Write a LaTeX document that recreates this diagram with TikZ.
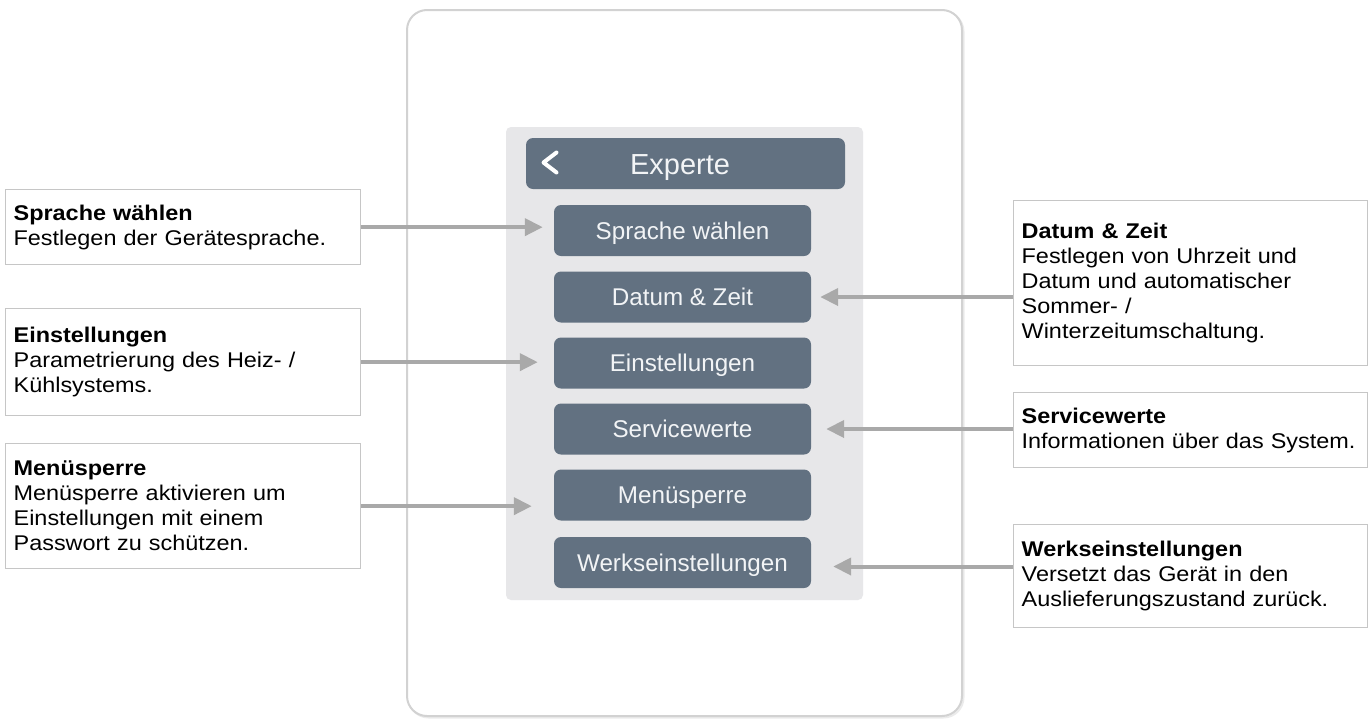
\documentclass[tikz,border=0pt]{standalone}
\usepackage{fontspec}
\setmainfont{Liberation Sans}
\newfontfamily\descfont{Liberation Sans}[FakeStretch=1.1]
\usetikzlibrary{arrows.meta}
\definecolor{btn}{HTML}{627181}
\definecolor{panel}{HTML}{E7E7E9}
\definecolor{devline}{HTML}{D2D2D2}
\definecolor{arrowgray}{HTML}{A9A9A9}
\definecolor{descline}{HTML}{C6C6C6}
\definecolor{btntext}{HTML}{F2F4F6}
\tikzset{
  device/.style={draw=devline, line width=2pt, fill=white, rounded corners=20pt, minimum width=555pt, minimum height=706pt},
  devshadow/.style={draw=black!8, line width=2pt, rounded corners=20pt, minimum width=555pt, minimum height=706pt},
  panelbox/.style={fill=panel, rounded corners=5pt, minimum width=357pt, minimum height=473pt},
  header/.style={fill=btn, rounded corners=7pt, minimum width=319pt, minimum height=51pt, text=btntext, text height=20.8pt, text depth=0pt, font=\fontsize{29}{32}\selectfont},
  btnbox/.style={fill=btn, rounded corners=7pt, minimum width=257pt, minimum height=51pt, text=btntext, text height=17.3pt, text depth=0pt, font=\fontsize{24.2}{28}\selectfont},
  desc/.style={draw=descline, line width=1.3pt, fill=white, align=left, inner xsep=8pt, inner ysep=0pt, anchor=north west, text=black, font=\descfont\fontsize{21.3}{25}\selectfont},
  descL/.style={desc, text width=339pt},
  descR/.style={desc, text width=338pt},
  arr/.style={draw=arrowgray, line width=4pt, -{Triangle[length=18pt,width=17pt]}, arrowgray}
}
\begin{document}
\begin{tikzpicture}[x=1pt,y=-1pt]
\useasboundingbox (0,0) rectangle (1371,718);
% device frame and panel
\node[devshadow] (devs) at (686,364.5) {};
\node[device] (dev) at (684.5,363) {};
\node[panelbox] (pan) at (684.5,363.5) {};
\node[header] (hdr) at (685.5,163.5) {};
\node[header, fill=none] (hdrt) at (680,164.5) {Experte};
\draw[white, line width=4pt, line cap=round, line join=round] (556.5,152.5) -- (543.5,162.5) -- (556.5,172.5);
% buttons
\node[btnbox] (b1) at (682.5,230.5) {Sprache wählen};
\node[btnbox] (b2) at (682.5,297) {Datum \& Zeit};
\node[btnbox] (b3) at (682.5,363) {Einstellungen};
\node[btnbox] (b4) at (682.5,429) {Servicewerte};
\node[btnbox] (b5) at (682.5,495) {Menüsperre};
\node[btnbox] (b6) at (682.5,562.5) {Werkseinstellungen};
% left descriptions
\node[descL, minimum height=75pt] (d1) at (5,189) {{\bfseries Sprache wählen}\\Festlegen der Gerätesprache.};
\node[descL, minimum height=107pt] (d2) at (5,308) {{\bfseries Einstellungen}\\Parametrierung des Heiz- /\\Kühlsystems.};
\node[descL, minimum height=125pt] (d3) at (5,443) {{\bfseries Menüsperre}\\Menüsperre aktivieren um\\Einstellungen mit einem\\Passwort zu schützen.};
% right descriptions
\node[descR, minimum height=165pt] (r1) at (1013,200) {{\bfseries Datum \& Zeit}\\Festlegen von Uhrzeit und\\Datum und automatischer\\Sommer- /\\Winterzeitumschaltung.};
\node[descR, minimum height=75pt] (r2) at (1013,392) {{\bfseries Servicewerte}\\Informationen über das System.};
\node[descR, minimum height=103pt] (r3) at (1013,524) {{\bfseries Werkseinstellungen}\\Versetzt das Gerät in den\\Auslieferungszustand zurück.};
% arrow tips
\path ([xshift=-11pt]b1.west) coordinate (t1);
\path ([xshift=-16pt]b3.west) coordinate (t3);
\path ([xshift=-22pt]b5.west) coordinate (t5);
\path ([xshift=9pt]b2.east) coordinate (t2);
\path ([xshift=15pt]b4.east) coordinate (t4);
\path ([xshift=22pt,yshift=-4pt]b6.east) coordinate (t6);
% connectors
\draw[arr] (d1.east) -- (d1.east -| t1);
\draw[arr] (d2.east) -- (d2.east -| t3);
\draw[arr] (d3.east) -- (d3.east -| t5);
\draw[arr] (r1.west |- t2) -- (t2);
\draw[arr] (r2.west |- t4) -- (t4);
\draw[arr] (r3.west |- t6) -- (t6);
\end{tikzpicture}
\end{document}
